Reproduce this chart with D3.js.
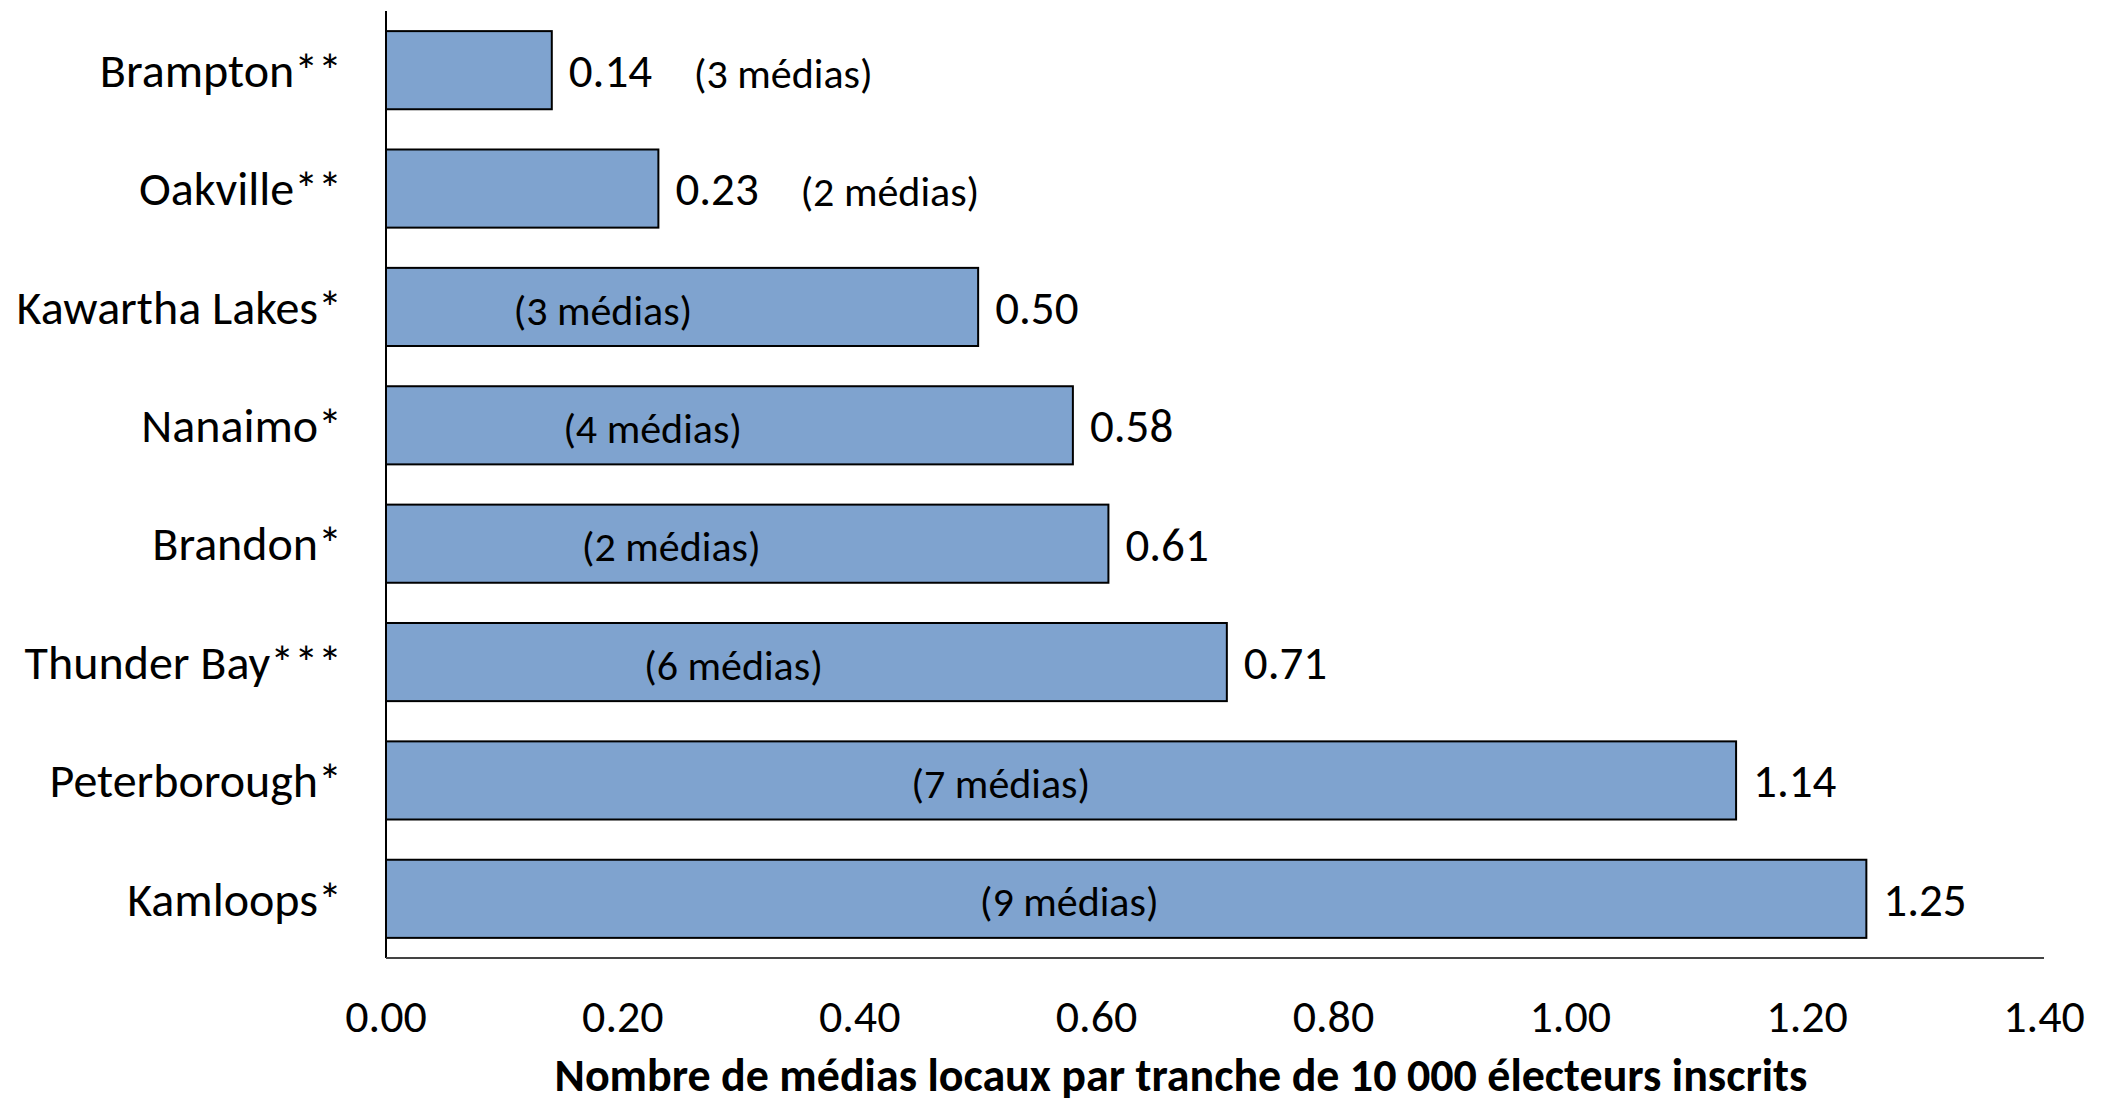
<!DOCTYPE html>
<html>
<head>
<meta charset="utf-8">
<script src="https://cdn.jsdelivr.net/npm/d3@7"></script>
<style>
  body { margin: 0; background: #fff; }
  text { font-family: Carlito, Calibri, Lato, sans-serif; fill: #000; }
</style>
</head>
<body>
<svg id="chart" width="2104" height="1104"></svg>
<script>
// donnees
var villes = ["Brampton**", "Oakville**", "Kawartha Lakes*", "Nanaimo*", "Brandon*", "Thunder Bay***", "Peterborough*", "Kamloops*"];
var valeurs = [0.14, 0.23, 0.50, 0.58, 0.61, 0.71, 1.14, 1.25];
var nbMedias = [3, 2, 3, 4, 2, 6, 7, 9];
var ticks = [0, 0.2, 0.4, 0.6, 0.8, 1.0, 1.2, 1.4];
var titreX = "Nombre de médias locaux par tranche de 10 000 électeurs inscrits";

const svg = d3.select("#chart");

let gauche = 386, droite = 2044, haut = 11, bas = 958;

const x = d3.scaleLinear()
    .domain([0, 1.4])
    .range([gauche, droite]);

const y = d3.scaleBand()
    .domain(villes)
    .range([haut, bas])
    .paddingInner(0.34)
    .paddingOuter(0.17);

const donnees = villes.map(function(v, i){
    return {ville: v, val: valeurs[i], medias: nbMedias[i]};
});

// barres
svg.selectAll("rect.barre")
    .data(donnees)
    .enter().append("rect")
    .attr("class", "barre")
    .attr("x", x(0))
    .attr("y", function(d){ return y(d.ville); })
    .attr("width", function(d){ return x(d.val) - x(0); })
    .attr("height", y.bandwidth())
    .attr("fill", "#7fa3cf")
    .attr("stroke", "#000")
    .attr("stroke-width", 2);

// axes
svg.append("line")
    .attr("x1", gauche).attr("x2", gauche)
    .attr("y1", haut).attr("y2", bas)
    .attr("stroke", "#000").attr("stroke-width", 2);

svg.append("line")
    .attr("x1", gauche).attr("x2", droite)
    .attr("y1", bas).attr("y2", bas)
    .attr("stroke", "#444").attr("stroke-width", 2);

// noms des villes
svg.selectAll("text.ville")
    .data(donnees)
    .enter().append("text")
    .attr("class", "ville")
    .attr("x", gauche - 44)
    .attr("y", function(d){ return y(d.ville) + y.bandwidth()/2; })
    .attr("dy", "0.35em")
    .attr("text-anchor", "end")
    .style("font-size", "48px")
    .text(function(d){ return d.ville; });

// valeurs
svg.selectAll("text.valeur")
    .data(donnees)
    .enter().append("text")
    .attr("class", "valeur")
    .attr("x", function(d){ return x(d.val) + 17; })
    .attr("y", function(d){ return y(d.ville) + y.bandwidth()/2; })
    .attr("dy", "0.36em")
    .style("font-size", "47px")
    .text(function(d){ return d3.format(".2f")(d.val); });

// nombre de medias : dans la barre, ou a droite si la barre est trop courte
svg.selectAll("text.medias")
    .data(donnees)
    .enter().append("text")
    .attr("class", "medias")
    .attr("x", function(d){
        var w = x(d.val) - x(0);
        if (w < 300){
            return x(d.val) + 142;
        }
        return x(0) + 0.525*w - 94;
    })
    .attr("text-anchor", function(d){
        return (x(d.val) - x(0)) < 300 ? "start" : "middle";
    })
    .attr("y", function(d){ return y(d.ville) + y.bandwidth()/2; })
    .attr("dy", "0.42em")
    .style("font-size", "42px")
    .text(function(d){ return "(" + d.medias + " médias)"; });

// graduations
svg.selectAll("text.tick")
    .data(ticks)
    .enter().append("text")
    .attr("class", "tick")
    .attr("x", function(d){ return x(d); })
    .attr("y", 1032)
    .attr("text-anchor", "middle")
    .style("font-size", "46px")
    .text(function(d){ return d3.format(".2f")(d); });

svg.append("text")
    .attr("x", 1181)
    .attr("y", 1091)
    .attr("text-anchor", "middle")
    .style("font-size", "46px")
    .style("font-weight", "bold")
    .text(titreX);
</script>
</body>
</html>
